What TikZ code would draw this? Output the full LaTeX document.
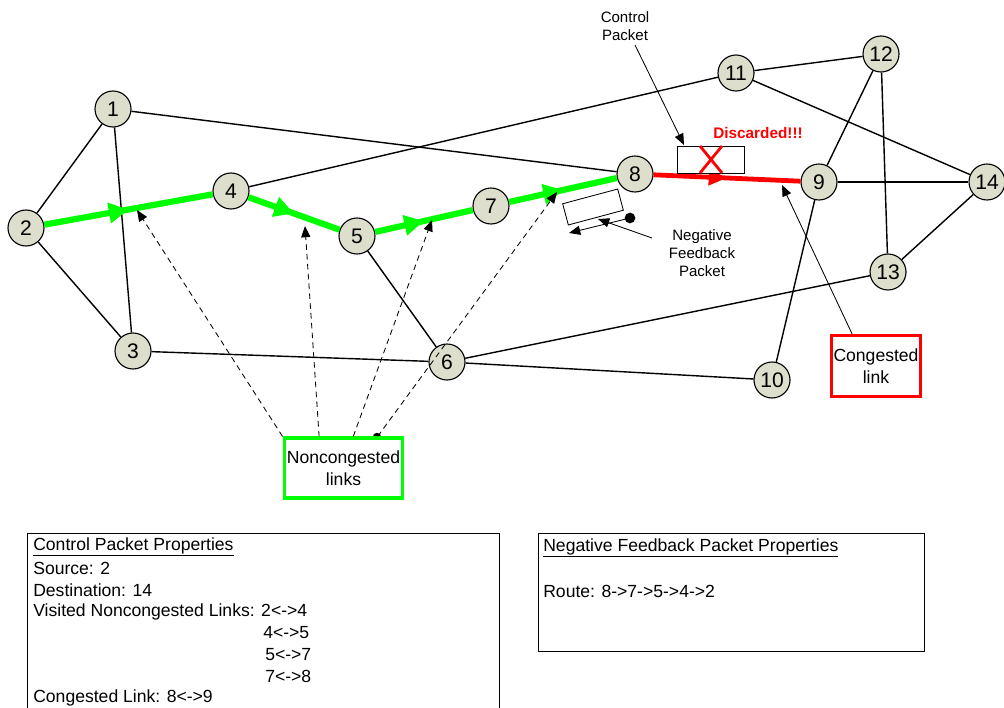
\documentclass[tikz,border=0pt]{standalone}
\usepackage{fontspec}
\setmainfont{Liberation Sans}
\usetikzlibrary{arrows.meta,decorations.markings,calc}
\definecolor{nodefill}{RGB}{221,223,204}
\definecolor{linkgreen}{RGB}{0,255,0}
\definecolor{linkred}{RGB}{255,0,0}

\begin{document}
\begin{tikzpicture}[x=0.025cm,y=-0.025cm,
  router/.style={circle,draw=black,line width=0.8pt,fill=nodefill,minimum size=25.6pt,inner sep=0pt,font=\fontsize{15}{18}\selectfont},
  link/.style={draw=black,line width=1pt},
  goodlink/.style={draw=linkgreen,line width=4.4pt,postaction=decorate,
    decoration={markings,mark=at position 0.5 with {\arrow[linkgreen]{Triangle[length=14pt,width=14pt]}}}},
  badlink/.style={draw=linkred,line width=3.4pt,postaction=decorate,
    decoration={markings,mark=at position 0.5 with {\arrow[linkred]{Triangle[length=13pt,width=11pt]}}}},
  pointer/.style={draw=black,line width=0.6pt,-{Triangle[length=8pt,width=6.5pt]}},
  hint/.style={draw=black,line width=0.6pt,dash pattern=on 4pt off 3pt,-{Triangle[length=8pt,width=6.5pt]}},
  note/.style={align=center,font=\fontsize{10.7}{12.8}\selectfont,inner sep=0pt},
  boxtext/.style={anchor=west,inner sep=0pt,font=\fontsize{12.5}{15}\selectfont},
  legendbox/.style={draw,line width=2.2pt,fill=white,align=center,inner sep=0pt,font=\fontsize{12.5}{15.6}\selectfont}
]
\useasboundingbox (0,0) rectangle (1004,708);

% routers
\node[router] (n1)  at (113,109) {1};
\node[router] (n2)  at (26,228)  {2};
\node[router] (n3)  at (133,351) {3};
\node[router] (n4)  at (231,191) {4};
\node[router] (n5)  at (357,236) {5};
\node[router] (n6)  at (447,362) {6};
\node[router] (n7)  at (491,206) {7};
\node[router] (n8)  at (635,174) {8};
\node[router] (n9)  at (819,182) {9};
\node[router] (n10) at (772,380) {10};
\node[router] (n11) at (736,73)  {11};
\node[router] (n12) at (881,54)  {12};
\node[router] (n13) at (888,272) {13};
\node[router] (n14) at (987,182) {14};

% plain links
\draw[link] (n1) -- (n2);
\draw[link] (n1) -- (n3);
\draw[link] (n1) -- (n8);
\draw[link] (n2) -- (n3);
\draw[link] (n3) -- (n6);
\draw[link] (n4) -- (n11);
\draw[link] (n5) -- (n6);
\draw[link] (n6) -- (n10);
\draw[link] (n6) -- (n13);
\draw[link] (n11) -- (n12);
\draw[link] (n11) -- (n14);
\draw[link] (n12) -- (n9);
\draw[link] (n12) -- (n13);
\draw[link] (n9) -- (n14);
\draw[link] (n13) -- (n14);
\draw[link] (n9) -- (n10);

% path of the control packet
\draw[goodlink] (n2) -- (n4);
\draw[goodlink] (n4) -- (n5);
\draw[goodlink] (n5) -- (n7);
\draw[goodlink] (n7) -- (n8);
\draw[badlink] (n8) -- (n9);

% discarded control packet
\node[draw,line width=0.6pt,fill=white,minimum width=47.7pt,minimum height=19.2pt,inner sep=0pt] (cp) at (710.5,159.5) {};
\draw[linkred,line width=2pt] (700,146) -- (722,173) (722,146) -- (700,173);
\node[text=linkred,font=\bfseries\fontsize{10.9}{13}\selectfont,inner sep=0pt] (disc) at (758,133) {Discarded!!!};
\node[note] (cplabel) at (625,26) {Control\\Packet};
\coordinate (cpfrom) at (635,45);
\coordinate (cpto) at (684,145);
\draw[pointer] (cpfrom) -- (cpto);

% negative feedback packet travelling back
\node[draw,line width=0.6pt,fill=white,minimum width=40.5pt,minimum height=15.6pt,inner sep=0pt,rotate=15] (nf) at (593,207) {};
\coordinate (nfstart) at (630,218);
\coordinate (nfend) at (569,233);
\fill (nfstart) circle[radius=3.8pt];
\draw[pointer] (nfstart) -- (nfend);
\node[note] (nflabel) at (702,253) {Negative\\Feedback\\Packet};
\coordinate (nffrom) at (652,238);
\coordinate (nfto) at (598,219);
\draw[pointer] (nffrom) -- (nfto);

% legend boxes
\node[legendbox,draw=linkred,minimum width=63.3pt,minimum height=43.5pt] (cong) at (876,366) {Congested\\link};
\coordinate (congtip) at (782,185);
\draw[pointer] ($(cong.north west)!0.24!(cong.north east)$) -- (congtip);

\fill (377,437) circle[radius=3pt];
\node[legendbox,draw=linkgreen,minimum width=84.5pt,minimum height=42.7pt] (nc) at (343.5,468) {Noncongested\\links};
\coordinate (t1) at (137,210);
\coordinate (t2) at (305,226);
\coordinate (t3) at (432,220);
\coordinate (t4) at (557,192);
\draw[hint] (nc.north west) -- (t1);
\draw[hint] ($(nc.north west)!0.3!(nc.north east)$) -- (t2);
\draw[hint] ($(nc.north west)!0.58!(nc.north east)$) -- (t3);
\draw[hint] ($(nc.north west)!0.78!(nc.north east)$) -- (t4);

% control packet properties
\draw[line width=0.6pt] (27,730) -- (27,533) -- (499,533) -- (499,730);
\node[boxtext] (h1) at (33,547) {\underline{Control Packet Properties}};
\node[boxtext] (s1) at (33,568.5) {Source: 2};
\node[boxtext] (s2) at (33,590) {Destination: 14};
\node[boxtext] (s3) at (33,611.5) {Visited Noncongested Links: 2<->4};
\node[boxtext] (s4) at (263,633) {4<->5};
\node[boxtext] (s5) at (265,654.5) {5<->7};
\node[boxtext] (s6) at (265,676) {7<->8};
\node[boxtext] (s7) at (33,697.5) {Congested Link: 8<->9};

% negative feedback packet properties
\draw[line width=0.6pt] (538,533) rectangle (924,651);
\node[boxtext] (h2) at (543,548) {\underline{Negative Feedback Packet Properties}};
\node[boxtext] (r1) at (543,591) {Route: 8->7->5->4->2};
\end{tikzpicture}
\end{document}
